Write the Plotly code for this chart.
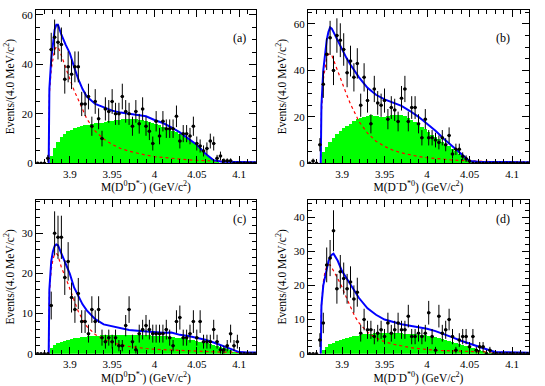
import numpy as np
import plotly.graph_objects as go

# 4 MeV bins, 3.86 - 4.12 GeV
bin_lo = 3.86
bin_w = 0.004
n_bins = 65
mass = [round(bin_lo + bin_w * (i + 0.5), 4) for i in range(n_bins)]

x_ticks = [3.9, 3.95, 4.0, 4.05, 4.1]
x_ticklabels = ["3.9", "3.95", "4", "4.05", "4.1"]

curve_mass = [3.875, 3.8758, 3.878, 3.880, 3.882, 3.884, 3.886, 3.888, 3.890, 3.895,
              3.900, 3.905, 3.910, 3.915, 3.920, 3.930, 3.940, 3.950, 3.960, 3.970,
              3.980, 3.990, 4.000, 4.010, 4.020, 4.030, 4.040, 4.050, 4.060, 4.070,
              4.080, 4.090, 4.100, 4.110, 4.120]

# (a)
data_a = [0, 0, 0, 2, 46, 51, 49, 48, 34, 39, 36, 39, 39, 24, 24, 27, 15, 25, 18, 10,
          22, 21, 25, 20, 20, 27, 21, 20, 15, 21, 16, 22, 15, 13, 8, 17, 11, 17, 14, 14,
          14, 19, 9, 12, 12, 11, 15, 8, 7, 5, 6, 9, 8, 2, 3, 1, 1, 1, 0, 0,
          0, 0, 0, 0, 0]
bkg_a = [0, 0, 0, 0, 3, 6, 8.5, 10.5, 12, 13, 13.6, 14.1, 14.6, 15, 15.3, 15.6, 15.9, 16.1, 16.3, 16.5,
         16.8, 17, 17.2, 17.4, 17.6, 17.8, 18, 18, 18, 17.9, 17.7, 17.4, 17, 16.6, 16.2, 15.8, 15.3, 14.8, 14.3, 13.8,
         13.2, 12.6, 12, 11.2, 10.4, 9.5, 8.5, 7.3, 6, 4.7, 3.4, 2.2, 1.2, 0.4, 0, 0, 0, 0, 0, 0,
         0, 0, 0, 0, 0]
sig_a = [0, 28, 38, 43, 46, 47, 47, 45.5, 43.5, 38.5, 34, 29.5, 25.5, 21.5, 18, 13, 9.8, 7.6, 6, 4.9,
         4, 3.3, 2.7, 2.3, 1.9, 1.6, 1.4, 1.2, 1.0, 0.9, 0.8, 0.7, 0.6, 0.6, 0.5]
fit_a = [0, 30, 42, 49, 54, 56, 56, 54, 52, 48, 44.5, 39, 34, 30, 27, 24, 22.5, 21.3, 20.5, 20,
         19.5, 19, 17.5, 16.3, 14.5, 12.5, 10, 7.5, 4, 1.2, 0.6, 0.5, 0.5, 0.4, 0.4]

# (b)
data_b = [0, 1, 0, 8, 34, 47, 54, 40, 55, 53, 49, 39, 44, 37, 43, 25, 37, 27, 17, 32,
          26, 25, 27, 19, 24, 23, 18, 28, 32, 18, 24, 24, 17, 11, 19, 11, 11, 10, 9, 11,
          8, 12, 4, 6, 6, 3, 2, 1, 0, 0, 0, 0, 0, 0, 0, 0, 0, 0, 0, 0,
          0, 0, 0, 0, 0]
bkg_b = [0, 0, 0, 0, 5, 7, 9, 11, 12.5, 14, 15, 16, 17, 18, 19, 19.5, 20, 20.5, 20.7, 20.5,
         20.2, 20, 20, 20.3, 20.8, 21, 21, 20.8, 20.2, 19.5, 18.7, 17.8, 16.8, 15.8, 14.6, 13.4, 12.4, 11.3, 10.3, 9.3,
         8.3, 7.3, 6.3, 5.2, 4.1, 3, 1.9, 0.8, 0, 0, 0, 0, 0, 0, 0, 0, 0, 0, 0, 0,
         0, 0, 0, 0, 0]
sig_b = [0, 22, 36, 42, 45.5, 47, 47, 46.5, 44.5, 40, 35, 30, 25.5, 21.5, 18, 13, 9.5, 7.3, 5.6, 4.5,
         3.6, 2.9, 2.4, 2.0, 1.7, 1.4, 1.2, 1.0, 0.9, 0.8, 0.7, 0.6, 0.6, 0.5, 0.5]
fit_b = [0, 25, 40, 48, 53, 56.5, 58.5, 58, 56.5, 53, 49, 45.5, 42.4, 39.5, 37, 32.5, 29.5, 27.5, 26, 24.7,
         22.5, 20, 17, 14, 10.5, 7.3, 4.3, 1.0, 0.7, 0.6, 0.6, 0.5, 0.5, 0.5, 0.5]

# (c)
data_c = [0, 0, 0, 0, 12, 30, 29, 29, 19, 23, 14, 11, 15, 8, 8, 5, 11, 8, 11, 4,
          3, 4, 3, 4, 2, 2, 7, 11, 3, 1, 5, 6, 7, 6, 5, 5, 5, 5, 6, 4,
          2, 8, 9, 4, 4, 5, 8, 4, 8, 3, 3, 3, 6, 3, 1, 1, 2, 5, 2, 3,
          0, 0, 0, 0, 0]
bkg_c = [0, 0, 0, 0, 1.5, 2.2, 2.7, 3.0, 3.2, 3.4, 3.6, 3.8, 4.0, 4.1, 4.2, 4.3, 4.4, 4.5, 4.5, 4.6,
         4.6, 4.7, 4.7, 4.7, 4.7, 4.7, 4.7, 4.7, 4.7, 4.7, 4.7, 4.6, 4.6, 4.6, 4.5, 4.5, 4.4, 4.4, 4.3, 4.2,
         4.1, 4.0, 3.9, 3.8, 3.7, 3.5, 3.4, 3.2, 3.0, 2.8, 2.6, 2.4, 2.2, 2.0, 1.7, 1.4, 1.1, 0.8, 0.5, 0.3,
         0.1, 0, 0, 0, 0]
sig_c = [0, 15, 21, 23.5, 24.8, 25, 24.5, 23, 21.5, 19, 16, 13, 10.5, 8.5, 6.8, 4.8, 3.6, 2.8, 2.2, 1.8,
         1.5, 1.3, 1.1, 1.0, 0.9, 0.8, 0.7, 0.6, 0.5, 0.5, 0.4, 0.4, 0.3, 0.3, 0.3]
fit_c = [0, 16, 23, 25.5, 26.8, 27.2, 27, 26, 25, 22.8, 19.9, 16.5, 14.5, 12.3, 10.8, 8.6, 7.3, 6.8, 6.3, 5.9,
         5.7, 5.5, 5.3, 5.2, 5.3, 4.7, 4.4, 4.0, 3.5, 2.8, 2.0, 1.2, 0.4, 0.3, 0.3]

# (d)
data_d = [0, 0, 0, 4, 9, 26, 28, 36, 19, 24, 22, 19, 21, 16, 18, 6, 10, 7, 7, 5,
          6, 7, 5, 9, 6, 7, 9, 7, 7, 11, 5, 5, 6, 5, 6, 12, 5, 1, 11, 6,
          7, 10, 5, 1, 4, 5, 5, 2, 5, 1, 2, 2, 0, 1, 0, 0, 0, 0, 0, 0,
          0, 0, 0, 0, 0]
bkg_d = [0, 0, 0, 0, 1, 2, 2.7, 3.2, 3.6, 4.0, 4.3, 4.6, 4.9, 5.1, 5.3, 5.5, 5.7, 5.8, 5.9, 6.0,
         6.0, 6.1, 6.1, 6.1, 6.1, 6.1, 6.0, 6.0, 5.9, 5.9, 5.8, 5.7, 5.6, 5.5, 5.4, 5.2, 5.0, 4.8, 4.6, 4.3,
         4.0, 3.7, 3.4, 3.1, 2.8, 2.5, 2.2, 1.9, 1.6, 1.3, 1.0, 0.7, 0.4, 0.2, 0, 0, 0, 0, 0, 0,
         0, 0, 0, 0, 0]
sig_d = [0, 14, 21, 24, 25.5, 26, 26, 25.3, 24.3, 22, 19.5, 16.5, 13.5, 11, 9, 6.3, 4.6, 3.5, 2.8, 2.2,
         1.8, 1.5, 1.2, 1.0, 0.9, 0.8, 0.7, 0.6, 0.5, 0.5, 0.4, 0.4, 0.3, 0.3, 0.3]
fit_d = [0, 14, 20, 22.5, 25, 27, 28.3, 29, 29.3, 27.2, 24.2, 22.3, 20.3, 18.2, 16.3, 13.3, 11.4, 10, 9.2, 8.6,
         8.2, 7.8, 7.3, 6.6, 5.8, 4.8, 3.8, 2.9, 2.0, 1.3, 0.5, 0.4, 0.3, 0.3, 0.3]

ytitle = "Events/(4.0 MeV/c<sup>2</sup>)"
xtitle_1 = "M(D<sup>0</sup>D<sup>*-</sup>) (GeV/c<sup>2</sup>)"
xtitle_2 = "M(D<sup>-</sup>D<sup>*0</sup>) (GeV/c<sup>2</sup>)"

W, H = 545, 386
font = "Liberation Serif"

panels = [
    dict(tag="(a)", data=data_a, bkg=bkg_a, sig=sig_a, fit=fit_a, xtitle=xtitle_1,
         ymax=62, dy=20, mdy=5, box=(36, 256, 10, 163.3)),
    dict(tag="(b)", data=data_b, bkg=bkg_b, sig=sig_b, fit=fit_b, xtitle=xtitle_2,
         ymax=66, dy=20, mdy=5, box=(308, 529, 10, 163.3)),
    dict(tag="(c)", data=data_c, bkg=bkg_c, sig=sig_c, fit=fit_c, xtitle=xtitle_1,
         ymax=38.3, dy=10, mdy=2, box=(36, 256, 200, 353.7)),
    dict(tag="(d)", data=data_d, bkg=bkg_d, sig=sig_d, fit=fit_d, xtitle=xtitle_2,
         ymax=45, dy=10, mdy=2, box=(308, 529, 200, 353.7)),
]

fig = go.Figure()
layout = {}
annotations = []

for k, p in enumerate(panels, start=1):
    xa = "x" if k == 1 else f"x{k}"
    ya = "y" if k == 1 else f"y{k}"
    x0, x1, y0, y1 = p["box"]

    fig.add_trace(go.Bar(x=mass, y=p["bkg"], width=bin_w, marker=dict(color="#00ff00", line_width=0),
                         xaxis=xa, yaxis=ya, showlegend=False, hoverinfo="skip"))
    fig.add_trace(go.Scatter(x=curve_mass, y=p["sig"], mode="lines",
                             line=dict(color="#ff0000", width=1.2, dash="dot"),
                             xaxis=xa, yaxis=ya, showlegend=False))
    fig.add_trace(go.Scatter(x=curve_mass, y=p["fit"], mode="lines",
                             line=dict(color="#0000ff", width=2),
                             xaxis=xa, yaxis=ya, showlegend=False))
    fig.add_trace(go.Scatter(x=mass, y=p["data"], mode="markers",
                             marker=dict(color="black", size=3.5),
                             error_y=dict(type="data", array=np.sqrt(p["data"]), thickness=1, width=0, color="black"),
                             error_x=dict(type="constant", value=bin_w / 2, thickness=1, width=0, color="black"),
                             xaxis=xa, yaxis=ya, showlegend=False))

    common = dict(showline=True, linecolor="black", linewidth=1, mirror="allticks",
                  ticks="inside", tickcolor="black", showgrid=False, zeroline=False,
                  automargin=False, tickfont=dict(family=font, size=11, color="black"))
    layout["xaxis" if k == 1 else f"xaxis{k}"] = dict(
        common, domain=[x0 / W, x1 / W], range=[3.86, 4.12], anchor=ya,
        tickmode="array", tickvals=x_ticks, ticktext=x_ticklabels, ticklen=7,
        minor=dict(tickmode="linear", tick0=3.86, dtick=0.01, ticks="inside", ticklen=4, tickcolor="black"),
        title=dict(text=p["xtitle"], font=dict(family=font, size=11.5, color="black"), standoff=3),
    )
    layout["yaxis" if k == 1 else f"yaxis{k}"] = dict(
        common, domain=[1 - y1 / H, 1 - y0 / H], range=[0, p["ymax"]], anchor=xa,
        tickmode="linear", tick0=0, dtick=p["dy"], ticklen=7,
        minor=dict(tickmode="linear", tick0=0, dtick=p["mdy"], ticks="inside", ticklen=4, tickcolor="black"),
        title=dict(text=ytitle, font=dict(family=font, size=11.5, color="black"), standoff=4),
    )
    annotations.append(dict(text=p["tag"], x=(x1 - 17) / W, y=1 - (y0 + 19) / H, xref="paper", yref="paper",
                            showarrow=False, font=dict(family=font, size=12, color="black")))

fig.update_layout(
    width=W, height=H, margin=dict(l=0, r=0, t=0, b=0),
    paper_bgcolor="white", plot_bgcolor="white",
    bargap=0, annotations=annotations, **layout,
)

# page body has a default 8px margin; drop it so the figure fills the window
fig.write_html("out.html", config={"displayModeBar": False},
               post_script="document.body.style.margin = '0px';")
